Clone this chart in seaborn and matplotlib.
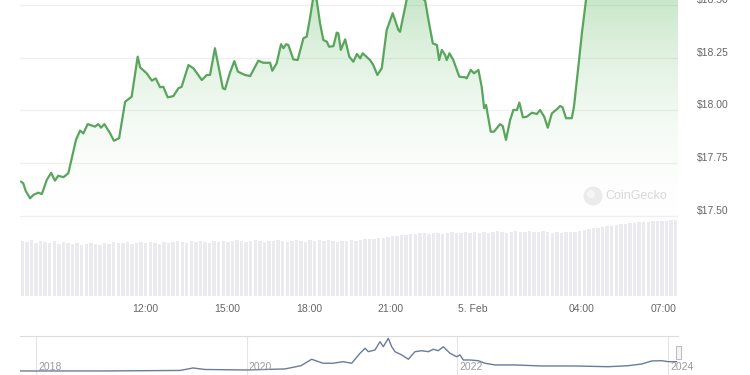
import numpy as np
import matplotlib
matplotlib.use("Agg")
import matplotlib.pyplot as plt
import matplotlib.transforms as mtransforms
from matplotlib.colors import LinearSegmentedColormap
from matplotlib.patches import Circle, Rectangle
import seaborn as sns

# ---------------- data ----------------
# hours since 2024-02-04 00:00
price_hours = [7.46, 7.54, 7.63, 7.79, 7.91, 8.09, 8.22, 8.40, 8.56, 8.70, 8.82, 9.01, 9.19,
               9.47, 9.62, 9.74, 9.90, 10.17, 10.29, 10.39, 10.51, 10.72, 10.86, 11.05, 11.27,
               11.51, 11.73, 11.82, 12.06, 12.25, 12.39, 12.55, 12.67, 12.83, 13.04, 13.22,
               13.34, 13.59, 13.77, 14.08, 14.26, 14.38, 14.56, 14.85, 14.93, 15.11, 15.27,
               15.40, 15.66, 15.85, 16.15, 16.33, 16.58, 16.66, 16.82, 16.98, 17.07, 17.17,
               17.25, 17.43, 17.59, 17.80, 17.92, 18.04, 18.19, 18.29, 18.41, 18.53, 18.66,
               18.74, 18.90, 19.02, 19.08, 19.17, 19.33, 19.48, 19.63, 19.76, 19.88, 19.97,
               20.24, 20.36, 20.51, 20.67, 20.85, 21.07, 21.28, 21.34, 21.59, 21.78, 22.00,
               22.26, 22.38, 22.54, 22.69, 22.77, 22.87, 22.99, 23.05, 23.15, 23.29, 23.51,
               23.72, 23.78, 23.93, 24.05, 24.21, 24.33, 24.42, 24.49, 24.66, 24.78, 25.00,
               25.10, 25.22, 25.37, 25.49, 25.62, 25.71, 25.84, 25.98, 26.17, 26.35, 26.47,
               26.62, 26.75, 26.90, 27.08, 27.20, 27.29, 27.42, 27.63, 27.71, 27.87, 28.00,
               28.15, 28.48, 29.40, 30.50, 31.52]
price_usd = [17.662, 17.654, 17.618, 17.583, 17.599, 17.610, 17.603, 17.670, 17.704, 17.667,
             17.690, 17.683, 17.702, 17.860, 17.904, 17.891, 17.935, 17.923, 17.935, 17.918,
             17.935, 17.891, 17.856, 17.868, 18.041, 18.065, 18.255, 18.204, 18.176, 18.141,
             18.152, 18.110, 18.112, 18.062, 18.068, 18.105, 18.112, 18.215, 18.200, 18.144,
             18.168, 18.168, 18.295, 18.105, 18.100, 18.179, 18.234, 18.184, 18.168, 18.163,
             18.236, 18.226, 18.226, 18.188, 18.223, 18.314, 18.295, 18.314, 18.310, 18.242,
             18.239, 18.342, 18.350, 18.437, 18.560, 18.520, 18.413, 18.334, 18.326, 18.302,
             18.305, 18.369, 18.366, 18.287, 18.337, 18.255, 18.231, 18.268, 18.247, 18.271,
             18.239, 18.215, 18.168, 18.200, 18.381, 18.461, 18.381, 18.373, 18.530, 18.560,
             18.550, 18.520, 18.429, 18.318, 18.310, 18.239, 18.287, 18.263, 18.239, 18.271,
             18.239, 18.160, 18.157, 18.152, 18.192, 18.176, 18.192, 18.112, 18.010, 18.026,
             17.899, 17.899, 17.935, 17.926, 17.860, 17.954, 18.002, 18.002, 18.037, 17.967,
             17.970, 17.989, 17.983, 18.002, 17.970, 17.918, 17.986, 18.005, 18.021, 18.015,
             17.963, 17.963, 18.018, 18.207, 18.366, 18.524, 18.620, 18.700, 18.680, 18.720]

volume_values = [55, 54, 56, 53, 55, 54, 53, 55, 52, 54, 53,
                 52, 53, 51, 52, 53, 52, 51, 53, 52, 54, 53,
                 53, 54, 52, 53, 54, 53, 54, 53, 52, 54, 53,
                 54, 55, 54, 53, 55, 54, 55, 54, 53, 55, 54,
                 55, 54, 55, 56, 55, 54, 55, 56, 55, 54, 55,
                 55, 56, 55, 54, 55, 56, 55, 54, 56, 55, 56,
                 55, 56, 55, 54, 55, 55, 56, 55, 56, 57, 57,
                 57, 58, 58, 59, 60, 60, 61, 61, 62, 62, 63,
                 63, 62, 63, 63, 62, 63, 64, 63, 63, 64, 63,
                 64, 63, 64, 63, 64, 65, 64, 63, 64, 65, 64,
                 64, 65, 64, 64, 65, 64, 63, 64, 63, 64, 64,
                 64, 65, 66, 67, 68, 68, 69, 70, 70, 71, 72,
                 72, 73, 73, 74, 74, 74, 75, 75, 75, 75, 76, 76]

tick_hours = [12, 15, 18, 21, 24, 28, 31]
tick_labels = ["12:00", "15:00", "18:00", "21:00", "5. Feb", "04:00", "07:00"]
price_ticks = [17.50, 17.75, 18.00, 18.25, 18.50]

nav_years = [2017.848, 2018.608, 2019.367, 2019.491, 2019.604, 2020.003, 2020.364, 2020.516,
             2020.617, 2020.725, 2020.820, 2020.915, 2020.997, 2021.076, 2021.124, 2021.155,
             2021.218, 2021.266, 2021.297, 2021.345, 2021.377, 2021.408, 2021.472, 2021.535,
             2021.598, 2021.662, 2021.725, 2021.772, 2021.819, 2021.867, 2021.930, 2021.994,
             2022.025, 2022.057, 2022.120, 2022.199, 2022.263, 2022.358, 2022.548, 2022.801,
             2023.117, 2023.433, 2023.623, 2023.751, 2023.846, 2023.941, 2024.003, 2024.083]
nav_price = [1.65, 1.65, 2.5, 6.6, 4.1, 3.3, 5.0, 10.4,
             21.0, 14.4, 14.4, 17.0, 14.4, 30.9, 39.1, 33.5,
             36.3, 50.0, 41.7, 55.6, 41.7, 33.5, 28.1, 21.0,
             33.5, 35.1, 33.5, 37.5, 35.1, 41.7, 30.9, 25.2,
             28.1, 19.8, 19.8, 18.6, 14.4, 11.6, 11.6, 9.9,
             9.9, 8.7, 10.4, 13.2, 18.2, 18.6, 17.0, 17.0]
nav_year_ticks = [2018, 2020, 2022, 2024]

# ---------------- style ----------------
sns.set_theme(style="white")
plt.rcParams['font.family'] = ['Liberation Sans', 'DejaVu Sans']

W, H = 750, 375
fig = plt.figure(figsize=(7.5, 3.75), dpi=100)
fig.patch.set_facecolor("white")

X0, X1 = 7.42, 31.52
Y_TOP = 18.5 + 5 / 210.8
Y_BOT = 18.5 - 225 / 210.8

LINE = "#58a55c"
TXT = "#666666"

# volume axes (drawn above, transparent)
ax_vol = fig.add_axes([20 / W, 1 - 296 / H, 658 / W, 80 / H])
ax = fig.add_axes([20 / W, 1 - 230 / H, 658 / W, 230 / H])
ax.set_zorder(1)
ax_vol.set_zorder(2)
ax_vol.patch.set_alpha(0)

# ---- price ----
ax.set_xlim(X0, X1)
ax.set_ylim(Y_BOT, Y_TOP)
for t in price_ticks:
    ax.axhline(t, color="#efefef", lw=0.9, zorder=0)

poly = ax.fill_between(price_hours, price_usd, Y_BOT, color="none", lw=0)
cmap = LinearSegmentedColormap.from_list(
    "g", [(1, 1, 1, 0), (0.30, 0.69, 0.31, 0.30)])
grad = np.linspace(0, 1, 256).reshape(-1, 1)
im = ax.imshow(grad, cmap=cmap, aspect="auto", origin="lower",
               extent=[X0, X1, Y_BOT, Y_TOP], zorder=1, interpolation="bicubic")
im.set_clip_path(poly.get_paths()[0], transform=ax.transData)

sns.lineplot(x=price_hours, y=price_usd, ax=ax, color=LINE, lw=1.6, zorder=3)
ax.set_xlim(X0, X1)
ax.set_ylim(Y_BOT, Y_TOP)

ax.yaxis.tick_right()
ax.set_yticks(price_ticks)
ax.set_yticklabels([f"${v:.2f}" for v in price_ticks])
ax.tick_params(axis="y", length=0, pad=14, labelsize=7.5, labelcolor=TXT)
for lbl in ax.get_yticklabels():
    lbl.set_va("bottom")
ax.set_xticks([])
ax.set_xlabel("")
ax.set_ylabel("")
for s in ax.spines.values():
    s.set_visible(False)

# ---- watermark ----
fig.add_artist(Circle((593, H - 196), 9.5, transform=mtransforms.IdentityTransform(),
                      fc="#ebebeb", ec="none", zorder=10))
fig.add_artist(Circle((591, H - 194), 4.0, transform=mtransforms.IdentityTransform(),
                      fc="#f6f6f6", ec="none", zorder=11))
fig.text(605 / W, 1 - 196 / H, "CoinGecko", fontsize=9, color="#d8d8d8",
         va="center", ha="left", zorder=11)

# ---- volume ----
step = (X1 - X0) / len(volume_values)
vol_hours = X0 + step * (np.arange(len(volume_values)) + 0.5)
sns.barplot(x=vol_hours, y=volume_values, native_scale=True, ax=ax_vol,
            color="#eaeaef", saturation=1, width=0.75, errorbar=None,
            edgecolor="none")
ax_vol.set_xlim(X0, X1)
ax_vol.set_ylim(0, 80)
ax_vol.set_xticks(tick_hours)
ax_vol.set_xticklabels(tick_labels)
ax_vol.set_yticks([])
ax_vol.tick_params(axis="x", length=0, pad=6, labelsize=7.5, labelcolor=TXT)
ax_vol.set_xlabel("")
ax_vol.set_ylabel("")
for s in ax_vol.spines.values():
    s.set_visible(False)

# ---- navigator ----
ax_nav = fig.add_axes([20 / W, 0, 658 / W, 39 / H])
ax_nav.patch.set_alpha(0)
for yr in nav_year_ticks:
    ax_nav.axvline(yr, color="#e4e4e4", lw=0.8, zorder=0)
sns.lineplot(x=nav_years, y=nav_price, ax=ax_nav, color="#6b7b9c", lw=1.0)
ax_nav.set_xlim(2017.848, 2024.095)
ax_nav.set_ylim(-5, 59.4)
blend = mtransforms.blended_transform_factory(ax_nav.transData, ax_nav.transAxes)
for yr in nav_year_ticks:
    ax_nav.text(yr + 0.02, 0.2, str(yr), transform=blend, fontsize=7.5,
                color="#9a9a9a", ha="left", va="center", clip_on=False)
ax_nav.set_xticks([])
ax_nav.set_yticks([])
ax_nav.set_xlabel("")
ax_nav.set_ylabel("")
for k, s in ax_nav.spines.items():
    s.set_visible(k == "top")
ax_nav.spines["top"].set_color("#dcdcdc")
ax_nav.spines["top"].set_linewidth(0.8)

# navigator handle
fig.add_artist(Rectangle((676 / W, 1 - 359 / H), 5 / W, 13 / H, transform=fig.transFigure,
                         fc="#f4f4f4", ec="#b0b0b0", lw=0.6, zorder=10))

fig.savefig("out.png", dpi=100, facecolor="white")
